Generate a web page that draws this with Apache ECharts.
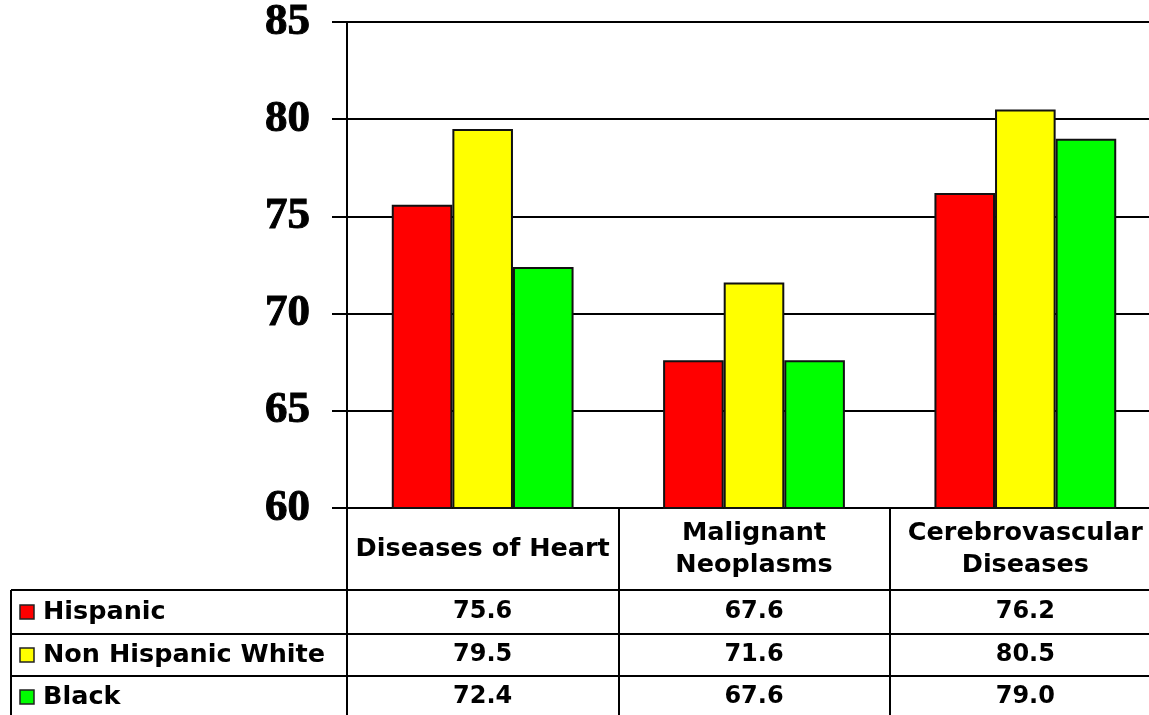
<!DOCTYPE html>
<html>
<head>
<meta charset="utf-8">
<script src="https://cdn.jsdelivr.net/npm/echarts@6/dist/echarts.min.js"></script>
<style>html,body{margin:0;padding:0;background:#fff;}#c{width:1149px;height:715px;}</style>
</head>
<body>
<div id="c"></div>
<script>
var categories = ['Diseases of Heart', 'Malignant\nNeoplasms', 'Cerebrovascular\nDiseases'];
var seriesNames = ['Hispanic', 'Non Hispanic White', 'Black'];
var hispanic = [75.6, 67.6, 76.2];
var nonHispanicWhite = [79.5, 71.6, 80.5];
var black = [72.4, 67.6, 79.0];
var colors = ['#FF0000', '#FFFF00', '#00FF00'];
var yMin = 60, yMax = 85, yStep = 5;

var seriesData = [hispanic, nonHispanicWhite, black];
var chart = echarts.init(document.getElementById('c'), null, {renderer: 'canvas'});
var tableFont = 'DejaVu Sans';

var option = {
  animation: false,
  backgroundColor: '#fff',
  grid: {left: 347, top: 22, width: 814, bottom: 207, containLabel: false, outerBoundsMode: 'none'},
  xAxis: {
    type: 'category',
    data: categories,
    boundaryGap: true,
    axisLine: {show: true, lineStyle: {color: '#000', width: 2}},
    axisTick: {show: true, interval: 0, length: 207, lineStyle: {color: '#000', width: 2}},
    axisLabel: {
      interval: 0, margin: 41, verticalAlign: 'middle', align: 'center',
      color: '#000', fontFamily: tableFont, fontWeight: 'bold', fontSize: 25.5, lineHeight: 32
    },
    splitLine: {show: false}
  },
  yAxis: {
    type: 'value', min: yMin, max: yMax, interval: yStep,
    axisLine: {show: true, lineStyle: {color: '#000', width: 2}},
    axisTick: {show: true, length: 15, lineStyle: {color: '#000', width: 2}},
    axisLabel: {margin: 37, color: '#000', fontFamily: 'Liberation Serif', fontWeight: 'bold', fontSize: 45,
      textBorderColor: '#000', textBorderWidth: 1},
    splitLine: {show: true, lineStyle: {color: '#000', width: 2}}
  },
  series: seriesNames.map(function (n, i) {
    return {
      name: n, type: 'bar', data: seriesData[i],
      barGap: '0%', barCategoryGap: '33%',
      itemStyle: {color: colors[i], borderColor: '#111', borderWidth: 2}
    };
  })
};
chart.setOption(option);

// Data table below the chart (positions from the category axis)
var rowLines = [590, 634, 676];
var rowCenters = [612, 655, 697];
var graphics = [];
rowLines.forEach(function (y) {
  graphics.push({type: 'line', shape: {x1: 11, y1: y, x2: 1149, y2: y}, style: {stroke: '#000', lineWidth: 2}});
});
graphics.push({type: 'line', shape: {x1: 11, y1: 590, x2: 11, y2: 715}, style: {stroke: '#000', lineWidth: 2}});
seriesNames.forEach(function (n, r) {
  var cy = rowCenters[r];
  graphics.push({type: 'rect', shape: {x: 20, y: cy - 7, width: 14, height: 14}, style: {fill: colors[r], stroke: '#222', lineWidth: 1.5}});
  graphics.push({type: 'text', x: 43, y: cy, style: {text: n, fill: '#000', font: 'bold 25.5px "' + tableFont + '"', textAlign: 'left', textVerticalAlign: 'middle'}});
  seriesData[r].forEach(function (v, c) {
    var px = chart.convertToPixel({xAxisIndex: 0}, c);
    graphics.push({type: 'text', x: px, y: cy, style: {text: v.toFixed(1), fill: '#000', font: 'bold 24px "' + tableFont + '"', textAlign: 'center', textVerticalAlign: 'middle'}});
  });
});
chart.setOption({graphic: graphics});
</script>
</body>
</html>
